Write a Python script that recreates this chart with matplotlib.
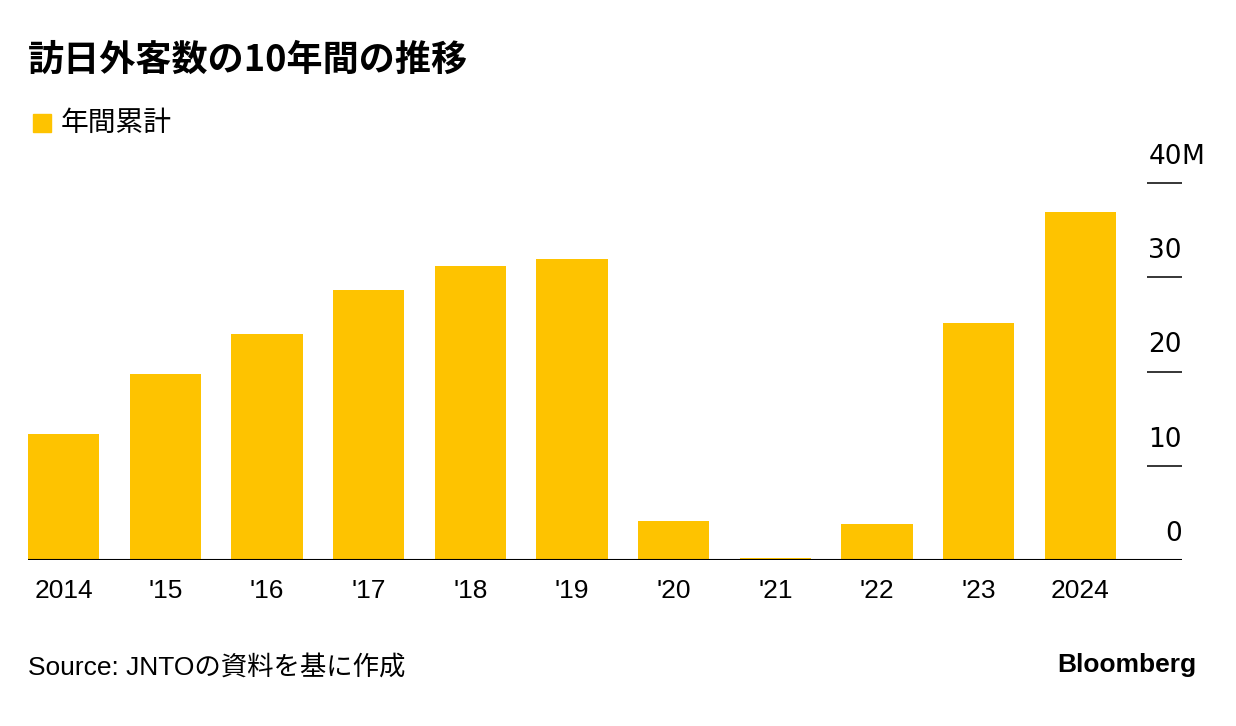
import matplotlib.pyplot as plt
from matplotlib.patches import Rectangle
from matplotlib import transforms

# Data (millions of visitors)
years = ['2014', "'15", "'16", "'17", "'18", "'19", "'20", "'21", "'22", "'23", '2024']
visitors = [13.4, 19.7, 24.0, 28.7, 31.2, 31.9, 4.1, 0.25, 3.8, 25.1, 36.9]
y_ticks = [0, 10, 20, 30, 40]
y_labels = ['0', '10', '20', '30', '40']

title = '訪日外客数の10年間の推移'
legend_label = '年間累計'
source = 'Source: JNTOの資料を基に作成'

yellow = '#FEC300'
jp = ['Liberation Sans', 'Noto Sans CJK JP', 'DejaVu Sans']

fig = plt.figure(figsize=(12.36, 7.26), dpi=100)
ax = fig.add_axes([28 / 1236, 1 - 560 / 726, (1182 - 28) / 1236, (560 - 183) / 726])

x = list(range(len(years)))
ax.bar(x, visitors, width=0.7, color=yellow, zorder=2)
ax.set_xlim(-0.35, 11.0)
ax.set_ylim(0, 40)

for s in ['top', 'left', 'right', 'bottom']:
    ax.spines[s].set_visible(False)
ax.axhline(0, color='black', linewidth=1.5, zorder=3)

ax.set_xticks(x)
ax.set_xticklabels(years, fontsize=19, family='Liberation Sans')
ax.tick_params(axis='x', length=0, pad=14)

# right-hand ticks drawn inward, labels sit above them
ax.yaxis.tick_right()
ax.set_yticks(y_ticks[1:])
ax.tick_params(axis='y', direction='in', length=25, width=1.1, labelright=False)

lab_tr = transforms.offset_copy(ax.get_yaxis_transform(), fig=fig, x=0, y=26, units='dots')
for v, lab in zip(y_ticks, y_labels):
    ax.text(1.0, v, lab, transform=lab_tr, ha='right', va='center',
            fontsize=19, family='DejaVu Sans')
    if v == y_ticks[-1]:
        m_tr = transforms.offset_copy(ax.get_yaxis_transform(), fig=fig, x=-1, y=26, units='dots')
        ax.text(1.0, v, 'M', transform=m_tr, ha='left', va='center',
                fontsize=19, family='DejaVu Sans')

# title and legend
fig.text(28 / 1236, 1 - 60 / 726, title, fontsize=26, fontweight='bold',
         family=['Noto Sans CJK JP'], va='center', ha='left')
fig.patches.append(Rectangle((33 / 1236, 1 - 132 / 726), 18 / 1236, 18 / 726,
                             transform=fig.transFigure, color=yellow))
fig.text(61 / 1236, 1 - 123 / 726, legend_label, fontsize=20,
         family=['Noto Sans CJK JP'], va='center', ha='left')

# footer
fig.text(28 / 1236, 1 - 667 / 726, source, fontsize=19, family=jp,
         va='center', ha='left')
fig.text(1196 / 1236, 1 - 665 / 726, 'Bloomberg', fontsize=19, fontweight='bold',
         family='Liberation Sans', va='center', ha='right')

fig.savefig('out.png', dpi=100)
